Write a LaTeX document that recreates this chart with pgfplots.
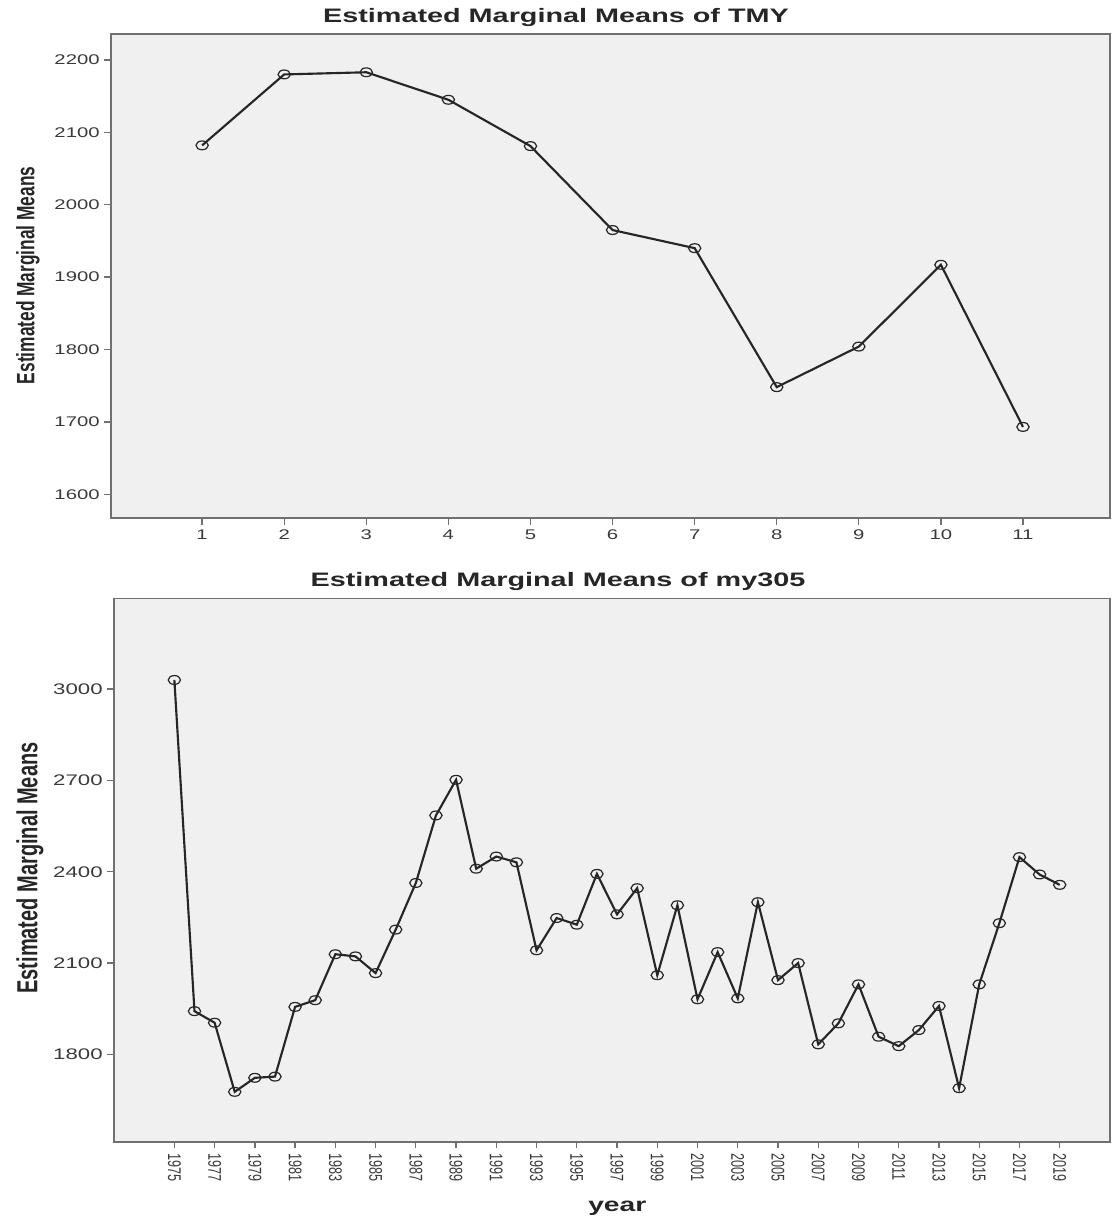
\documentclass[border=0pt]{standalone}
\usepackage{pgfplots}
\pgfplotsset{compat=1.18}
\usepackage{fontspec}
\setmainfont{Liberation Sans}
\definecolor{bgc}{HTML}{F0F0F0}
\definecolor{frame}{HTML}{707070}
\definecolor{tl}{HTML}{3A3A3A}
\newcommand{\hs}[1]{\scalebox{1.45}[1]{#1}}
\begin{document}
\begin{tikzpicture}
\useasboundingbox (0,0) rectangle (834pt,-915pt);
\pgfplotsset{
  common/.style={
    scale only axis,
    axis background/.style={fill=bgc},
    axis line style={draw=frame, line width=1.3pt},
    tick align=outside,
    xtick pos=left, ytick pos=left,
    major tick length=5pt,
    every tick/.style={draw=frame, line width=1pt},
    /pgf/number format/assume math mode=true,
    /pgf/number format/1000 sep={},
    clip=false,
  },
  ser/.style={draw=black!85, line width=1.6pt, mark=o,
    mark options={draw=black!85, line width=0.9pt, xscale=1.4}, mark size=3.3pt},
}
% top panel
\begin{axis}[common,
  at={(83.25pt,-388.7pt)}, anchor=south west,
  width=749.25pt, height=363pt,
  xmin=-0.11, xmax=12.06, ymin=1566.8, ymax=2235.5,
  xtick={1,...,11}, ytick={1600,1700,...,2200},
  xticklabel={\hs{\pgfmathprintnumber[fixed,precision=0]{\tick}}},
  yticklabel={\hs{\pgfmathprintnumber[1000 sep={}]{\tick}}},
  tick label style={font=\fontsize{10.5pt}{12pt}\selectfont, text=tl},
]
\addplot[ser] coordinates {
(1,2082) (2,2180) (3,2183) (4,2145) (5,2081) (6,1965) (7,1940) (8,1748) (9,1804) (10,1917) (11,1693)
};
\end{axis}
% bottom panel
\begin{axis}[common,
  at={(85.5pt,-856.3pt)}, anchor=south west,
  width=747pt, height=407.5pt,
  xmin=1972.0, xmax=2021.5, ymin=1513, ymax=3298,
  xtick={1975,1977,...,2019}, ytick={1800,2100,2400,2700,3000},
  xticklabel={\scalebox{1.45}[1]{\rotatebox{-90}{\pgfmathprintnumber[1000 sep={},fixed,precision=0]{\tick}}}},
  yticklabel={\hs{\pgfmathprintnumber[1000 sep={}]{\tick}}},
  x tick label style={font=\fontsize{9.5pt}{10pt}\selectfont, text=tl, anchor=north},
  y tick label style={font=\fontsize{11.5pt}{13pt}\selectfont, text=tl},
]
\addplot[ser] coordinates {
(1975,3030) (1976,1942) (1977,1904) (1978,1677) (1979,1723) (1980,1727)
(1981,1956) (1982,1978) (1983,2129) (1984,2122) (1985,2067) (1986,2210)
(1987,2363) (1988,2585) (1989,2702) (1990,2410) (1991,2450) (1992,2431)
(1993,2142) (1994,2248) (1995,2226) (1996,2393) (1997,2260) (1998,2346)
(1999,2060) (2000,2290) (2001,1981) (2002,2136) (2003,1984) (2004,2300)
(2005,2044) (2006,2100) (2007,1833) (2008,1902) (2009,2030) (2010,1858)
(2011,1827) (2012,1880) (2013,1959) (2014,1689) (2015,2030) (2016,2231)
(2017,2448) (2018,2391) (2019,2357)
};
\end{axis}
% titles and labels
\node[text=black!85] at (417pt,-13.5pt) {\scalebox{1.48}[1]{\fontsize{14.6pt}{16pt}\selectfont\bfseries Estimated Marginal Means of TMY}};
\node[text=black!85] at (418.5pt,-436.5pt) {\scalebox{1.48}[1]{\fontsize{14.6pt}{16pt}\selectfont\bfseries Estimated Marginal Means of my305}};
\node[text=black!85] at (21pt,-206.5pt) {\scalebox{1.45}[1]{\rotatebox{90}{\fontsize{13pt}{14pt}\selectfont\bfseries Estimated Marginal Means}}};
\node[text=black!85] at (22.5pt,-651pt) {\scalebox{1.45}[1]{\rotatebox{90}{\fontsize{15pt}{16pt}\selectfont\bfseries Estimated Marginal Means}}};
\node[text=black!85] at (463pt,-906pt) {\scalebox{1.45}[1]{\fontsize{14.6pt}{16pt}\selectfont\bfseries year}};
\end{tikzpicture}
\end{document}
